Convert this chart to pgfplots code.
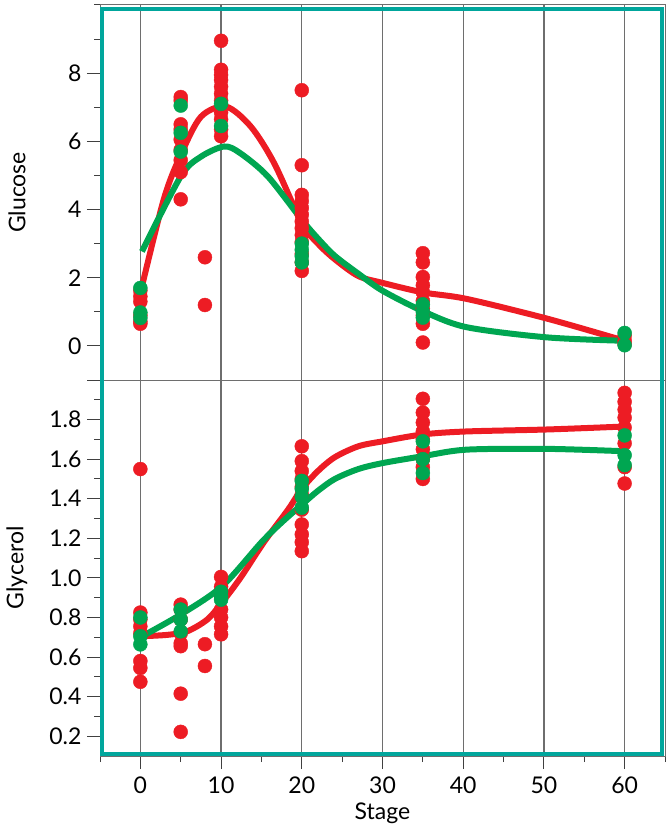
\documentclass[border=0pt]{standalone}
\usepackage{fontspec}
\setmainfont{Lato}
\usepackage{pgfplots}
\pgfplotsset{compat=1.18}

\definecolor{cred}{RGB}{237,28,36}
\definecolor{cgreen}{RGB}{0,166,81}
\definecolor{frame}{RGB}{0,166,156}
\definecolor{gline}{RGB}{110,110,110}

\pgfplotsset{
  panel/.style={
    width=565pt, scale only axis,
    xmin=-5, xmax=65,
    axis line style={gline, line width=1pt},
    xmajorgrids, major grid style={gline, line width=1.3pt},
    xtick={0,10,...,60},
    tick style={black!75, line width=1pt},
    major tick length=13pt, minor tick length=6pt,
    tick align=outside, ytick pos=left,
    /pgf/number format/assume math mode=true,
    ticklabel style={font=\fontsize{23}{26}\selectfont},
    yticklabel style={xshift=-2pt},
    xticklabel style={yshift=-4pt},
    label style={font=\fontsize{23}{26}\selectfont},
    ylabel style={at={(axis description cs:-0.147,0.5)}, anchor=center},
  },
  rdot/.style={only marks, mark=*, mark size=7pt, color=cred},
  gdot/.style={only marks, mark=*, mark size=7pt, color=cgreen},
  rfit/.style={no marks, smooth, cred, line width=6pt},
  gfit/.style={no marks, smooth, cgreen, line width=6pt},
}

\begin{document}
\begin{tikzpicture}
\path[use as bounding box] (0,0) rectangle (667pt,-834pt);

% Glucose
\begin{axis}[panel, at={(100pt,-380pt)}, anchor=south west, height=375pt,
  ymin=-1, ymax=10,
  ytick={0,2,4,6,8}, minor ytick={1,3,5,7,9,10},
  xticklabels={}, xtick style={draw=none},
  ylabel={Glucose}]
\addplot[rfit] coordinates {(0,1.55)(2.9,4.3)(5,5.6)(7.5,6.72)(10.6,7.02)(13.7,6.43)(16.6,5.35)(20,3.6)(22,3.0)(24.1,2.54)(27,2.05)(30,1.85)(35,1.57)(40.4,1.38)(50.4,0.8)(60,0.15)};
\addplot[gfit] coordinates {(0.2,2.77)(5,4.97)(7.5,5.55)(10.4,5.85)(12.4,5.65)(15.8,4.97)(20,3.7)(22,3.15)(24.1,2.64)(27,2.12)(30,1.62)(35,1.02)(40.4,0.55)(50.4,0.25)(60,0.15)};
\addplot[rdot] coordinates {
  (0,1.62)(0,1.45)(0,1.3)(0,0.9)(0,0.72)(0,0.65)
  (5,7.3)(5,7.2)(5,6.5)(5,6.35)(5,6.05)(5,5.75)(5,5.45)(5,5.1)(5,4.3)
  (8,2.6)(8,1.2)
  (10,8.95)(10,8.1)(10,7.95)(10,7.8)(10,7.6)(10,7.4)(10,7.2)(10,6.85)(10,6.65)(10,6.35)(10,6.15)
  (20,7.5)(20,5.3)(20,4.43)(20,4.25)(20,4.05)(20,3.85)(20,3.65)(20,3.45)(20,3.25)(20,3.05)(20,2.7)(20,2.45)(20,2.2)
  (35,2.72)(35,2.45)(35,2.02)(35,1.78)(35,1.57)(35,1.32)(35,1.1)(35,0.9)(35,0.65)(35,0.1)
  (60,0.3)(60,0.15)(60,0.05)};
\addplot[gdot] coordinates {
  (0,1.7)(0,0.98)(0,0.82)
  (5,7.05)(5,6.25)(5,5.7)
  (10,7.1)(10,6.45)
  (20,3.0)(20,2.82)(20,2.63)(20,2.45)
  (35,1.22)(35,1.0)(35,0.83)
  (60,0.38)(60,0.02)};
\end{axis}

% Glycerol
\begin{axis}[panel, at={(100pt,-756pt)}, anchor=south west, height=376pt,
  ymin=0.1, ymax=2.0,
  ytick={0.2,0.4,...,1.8}, minor ytick={0.3,0.5,...,1.9},
  extra y ticks={2.0}, extra y tick labels={},
  yticklabel style={/pgf/number format/.cd, fixed, fixed zerofill, precision=1},
  xtick pos=bottom, minor xtick={-5,5,...,65},
  xlabel={Stage},
  xlabel style={at={(axis description cs:0.5,0)}, anchor=center, yshift=-57pt},
  ylabel={Glycerol}]
\addplot[rfit] coordinates {(0,0.705)(3.3,0.712)(5.8,0.73)(8.3,0.79)(10.1,0.875)(12.4,1.0)(15.3,1.18)(18.3,1.345)(20,1.45)(22,1.54)(24.1,1.61)(27,1.665)(30,1.69)(35,1.725)(40.4,1.74)(50.4,1.75)(60,1.765)};
\addplot[gfit] coordinates {(0,0.7)(5,0.815)(10.1,0.957)(15,1.18)(17.5,1.28)(20,1.37)(22,1.44)(24.1,1.5)(27,1.55)(30,1.58)(35,1.615)(40.4,1.648)(50.4,1.652)(60,1.64)};
\addplot[rdot] coordinates {
  (0,1.55)(0,0.825)(0,0.79)(0,0.755)(0,0.72)(0,0.58)(0,0.545)(0,0.475)
  (5,0.865)(5,0.84)(5,0.79)(5,0.72)(5,0.67)(5,0.655)(5,0.415)(5,0.222)
  (8,0.665)(8,0.555)
  (10,1.005)(10,0.955)(10,0.905)(10,0.84)(10,0.8)(10,0.755)(10,0.715)
  (20,1.665)(20,1.59)(20,1.54)(20,1.5)(20,1.46)(20,1.42)(20,1.345)(20,1.27)(20,1.22)(20,1.18)(20,1.135)
  (35,1.905)(35,1.835)(35,1.785)(35,1.74)(35,1.7)(35,1.65)(35,1.6)(35,1.56)(35,1.5)
  (60,1.935)(60,1.89)(60,1.85)(60,1.81)(60,1.76)(60,1.68)(60,1.56)(60,1.477)};
\addplot[gdot] coordinates {
  (0,0.8)(0,0.705)(0,0.664)
  (5,0.84)(5,0.79)(5,0.73)
  (10,0.93)(10,0.906)(10,0.89)
  (20,1.49)(20,1.45)(20,1.41)(20,1.355)
  (35,1.69)(35,1.6)(35,1.53)
  (60,1.72)(60,1.62)(60,1.57)};
\end{axis}

\draw[frame, line width=4pt] (102pt,-9pt) rectangle (662pt,-754pt);
\end{tikzpicture}
\end{document}
